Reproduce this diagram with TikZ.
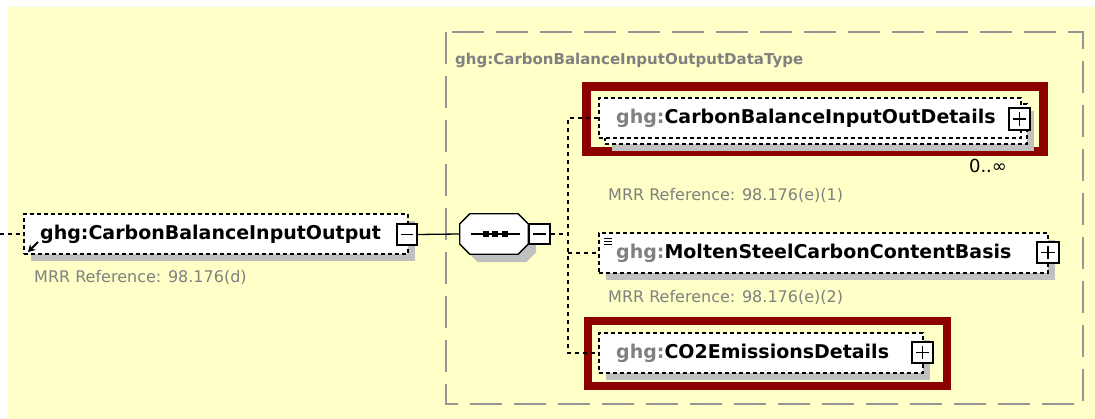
\documentclass[tikz,border=0pt]{standalone}
\usepackage{fontspec}
\setmainfont{DejaVu Sans}
\usetikzlibrary{shadows,arrows.meta}

\definecolor{bgyellow}{RGB}{255,255,200}
\definecolor{groupgray}{RGB}{150,150,150}
\definecolor{shadowgray}{RGB}{192,192,192}
\definecolor{framered}{RGB}{140,0,0}
\definecolor{textgray}{RGB}{128,128,128}

\newcommand{\ghg}{{\color{textgray}ghg:}}

\tikzset{
    elembox/.style={draw=black, fill=white, dash pattern=on 4pt off 3pt, line width=1.3pt, inner sep=0pt},
    shadowed/.style={general shadow={fill=shadowgray, shadow xshift=7pt, shadow yshift=-7pt}},
    elemtext/.style={anchor=west, inner sep=0pt, font=\bfseries\fontsize{19}{22}\selectfont},
    reftext/.style={anchor=west, inner sep=0pt, text=textgray, font=\fontsize{16}{19}\selectfont},
    pmbox/.style={draw=black, fill=white, line width=1.2pt, minimum width=20pt, minimum height=20pt, inner sep=0pt},
    minusbox/.style={pmbox, path picture={
        \draw[line width=1.2pt] ([xshift=4pt]path picture bounding box.west) -- ([xshift=-4pt]path picture bounding box.east);}},
    plusbox/.style={pmbox, path picture={
        \draw[line width=1.2pt] ([xshift=4pt]path picture bounding box.west) -- ([xshift=-4pt]path picture bounding box.east);
        \draw[line width=1.2pt] ([yshift=-4pt]path picture bounding box.north) -- ([yshift=4pt]path picture bounding box.south);}},
    redframe/.style={draw=framered, line width=8.5pt},
    dashline/.style={draw=black, line width=1.3pt, dash pattern=on 4pt off 4pt},
    solidline/.style={draw=black, line width=1.3pt}
}

\begin{document}
\begin{tikzpicture}[x=1pt, y=-1pt]

    \useasboundingbox (0,0) rectangle (1095,419);
    \fill[bgyellow] (8,7) rectangle (1095,419);

    \draw[groupgray, line width=2pt, dash pattern=on 32pt off 12pt] (446,32) rectangle (1083,404);
    \node[elemtext, text=textgray, font=\bfseries\fontsize{15}{18}\selectfont] at (455,60) (grouptitle) {ghg:CarbonBalanceInputOutputDataType};

    \draw[redframe] (586.5,86.5) rectangle (1043.5,151.5);
    \draw[redframe] (588,321) rectangle (947,386);

    \node[elembox, shadowed, minimum width=384pt, minimum height=40pt] at (216,234) (main) {};
    \node[elemtext] at (40,234) (maintext) {ghg:CarbonBalanceInputOutput};
    \node[minusbox, minimum width=20pt, minimum height=21pt] at (407,234.5) (mainminus) {};
    \node[reftext] at (34,277) (mainref) {MRR Reference: 98.176(d)};
    \draw[-{Stealth[length=7pt,width=8pt]}, line width=2pt] (38,242) -- (28,252);

    \node[minimum width=68pt, minimum height=40pt, inner sep=0pt] at (494,234) (seq) {};
    \draw[fill=white, line width=1.3pt, general shadow={fill=shadowgray, shadow xshift=8pt, shadow yshift=-8pt}]
        ([xshift=10pt]seq.north west) -- ([xshift=-10pt]seq.north east) -- ([yshift=-10pt]seq.north east)
        -- ([yshift=10pt]seq.south east) -- ([xshift=-10pt]seq.south east) -- ([xshift=10pt]seq.south west)
        -- ([yshift=10pt]seq.south west) -- ([yshift=-10pt]seq.north west) -- cycle;
    \draw[line width=1.3pt] (471,234) -- (520,234);
    \foreach \x in {486,495,505}
        \fill (\x-3,231) rectangle (\x+3,237);
    \node[minusbox, minimum width=21pt] at (539.5,234) (seqminus) {};

    \node[elembox, shadowed, minimum width=422pt, minimum height=40pt] at (816,124) (detailsback) {};
    \node[elembox, minimum width=422pt, minimum height=40pt] at (810,118) (details) {};
    \node[elemtext] at (616,118) (detailstext) {\ghg CarbonBalanceInputOutDetails};
    \node[plusbox, minimum width=21pt, minimum height=22pt] at (1019.5,119) (detailsplus) {};
    \node[anchor=center, inner sep=0pt, font=\fontsize{18}{21}\selectfont] at (988,166) (detailsocc) {0..∞};
    \node[reftext] at (608,195) (detailsref) {MRR Reference: 98.176(e)(1)};

    \node[elembox, shadowed, minimum width=449pt, minimum height=40pt] at (823.5,253) (basis) {};
    \node[elemtext] at (616,253) (basistext) {\ghg MoltenSteelCarbonContentBasis};
    \node[plusbox, minimum width=22pt, minimum height=21pt] at (1048,252.5) (basisplus) {};
    \foreach \y in {239,242,245}
        \draw[line width=1pt] (604,\y) -- (612,\y);
    \node[reftext] at (608,297) (basisref) {MRR Reference: 98.176(e)(2)};

    \node[elembox, shadowed, minimum width=324pt, minimum height=40pt] at (761,353) (emissions) {};
    \node[elemtext] at (616,353) (emissionstext) {\ghg CO2EmissionsDetails};
    \node[plusbox, minimum width=21pt, minimum height=21pt] at (922.5,352.5) (emissionsplus) {};

    \coordinate (inlet) at (0,234);
    \coordinate (fork) at (568,234);

    \draw[dashline] (inlet) -- (main.west);
    \draw[solidline] (mainminus.east) -- (seq.west);
    \draw[dashline] (seqminus.east) -- (fork);
    \draw[dashline] (details.west) -| (fork |- emissions.west) -- (emissions.west);
    \draw[dashline] (fork |- basis.west) -- (basis.west);

\end{tikzpicture}
\end{document}
